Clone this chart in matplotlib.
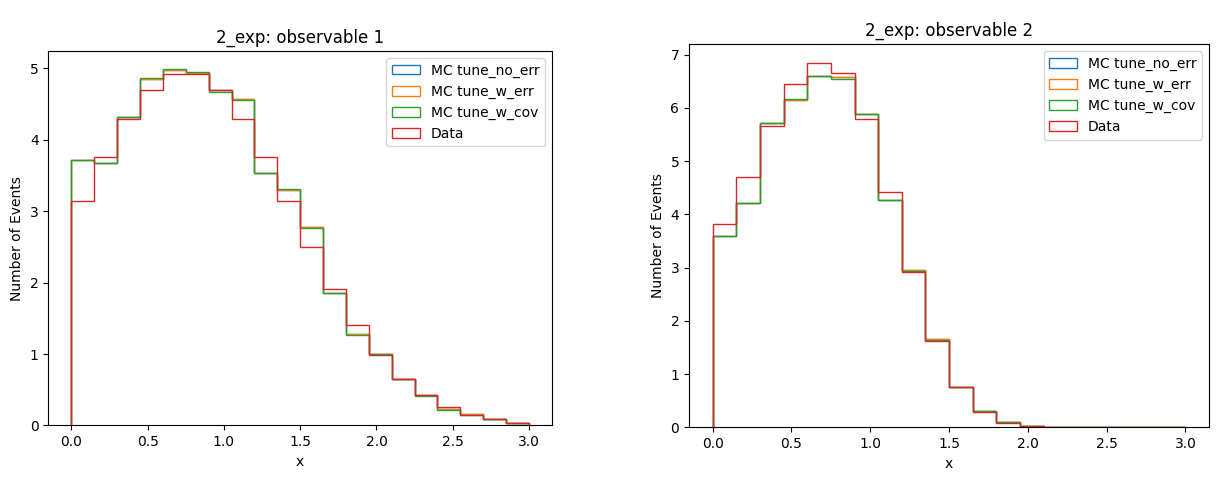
import numpy as np
import matplotlib
matplotlib.use("Agg")
import matplotlib.pyplot as plt

edges = np.linspace(0.0, 3.0, 21)
labels = ["MC tune_no_err", "MC tune_w_err", "MC tune_w_cov", "Data"]

# observable 1
obs1_no_err = [3.71, 3.67, 4.31, 4.85, 4.97, 4.93, 4.69, 4.57, 3.53, 3.30,
               2.78, 1.86, 1.28, 1.00, 0.65, 0.42, 0.23, 0.16, 0.09, 0.04]
obs1_w_err = [3.71, 3.67, 4.31, 4.85, 4.97, 4.93, 4.69, 4.57, 3.53, 3.30,
              2.78, 1.86, 1.28, 1.00, 0.65, 0.42, 0.23, 0.16, 0.09, 0.04]
obs1_w_cov = [3.72, 3.67, 4.31, 4.86, 4.99, 4.95, 4.66, 4.56, 3.53, 3.31,
              2.76, 1.86, 1.27, 1.00, 0.65, 0.41, 0.21, 0.15, 0.09, 0.04]
obs1_data = [3.14, 3.75, 4.29, 4.70, 4.92, 4.92, 4.69, 4.29, 3.75, 3.14,
             2.50, 1.91, 1.40, 0.98, 0.65, 0.42, 0.26, 0.15, 0.09, 0.04]

# observable 2
obs2_no_err = [3.60, 4.21, 5.71, 6.15, 6.60, 6.57, 5.89, 4.27, 2.95, 1.65,
               0.75, 0.30, 0.09, 0.02, 0.005, 0.002, 0.001, 0.0, 0.0, 0.0]
obs2_w_err = [3.60, 4.21, 5.71, 6.15, 6.60, 6.57, 5.89, 4.27, 2.95, 1.65,
              0.75, 0.30, 0.09, 0.02, 0.005, 0.002, 0.001, 0.0, 0.0, 0.0]
obs2_w_cov = [3.60, 4.22, 5.71, 6.16, 6.60, 6.55, 5.88, 4.27, 2.94, 1.64,
              0.75, 0.30, 0.09, 0.02, 0.005, 0.002, 0.001, 0.0, 0.0, 0.0]
obs2_data = [3.81, 4.71, 5.65, 6.45, 6.85, 6.65, 5.79, 4.42, 2.91, 1.63,
             0.75, 0.28, 0.08, 0.02, 0.005, 0.0, 0.0, 0.0, 0.0, 0.0]

fig = plt.figure(figsize=(12.3, 4.86), dpi=100)
ax1 = fig.add_axes([0.0394, 0.1245, 0.4093, 0.7706])
ax2 = fig.add_axes([0.5602, 0.1208, 0.4228, 0.788])

centers = 0.5 * (edges[:-1] + edges[1:])
for ax, series, title in [
        (ax1, [obs1_no_err, obs1_w_err, obs1_w_cov, obs1_data], "2_exp: observable 1"),
        (ax2, [obs2_no_err, obs2_w_err, obs2_w_cov, obs2_data], "2_exp: observable 2")]:
    for vals, lab in zip(series, labels):
        ax.hist(centers, bins=edges, weights=vals, histtype="step", label=lab)
    ax.set_xlabel("x")
    ax.set_ylabel("Number of Events")
    ax.set_title(title)
    ax.legend(loc="upper right")

plt.savefig("out.png", dpi=100)
